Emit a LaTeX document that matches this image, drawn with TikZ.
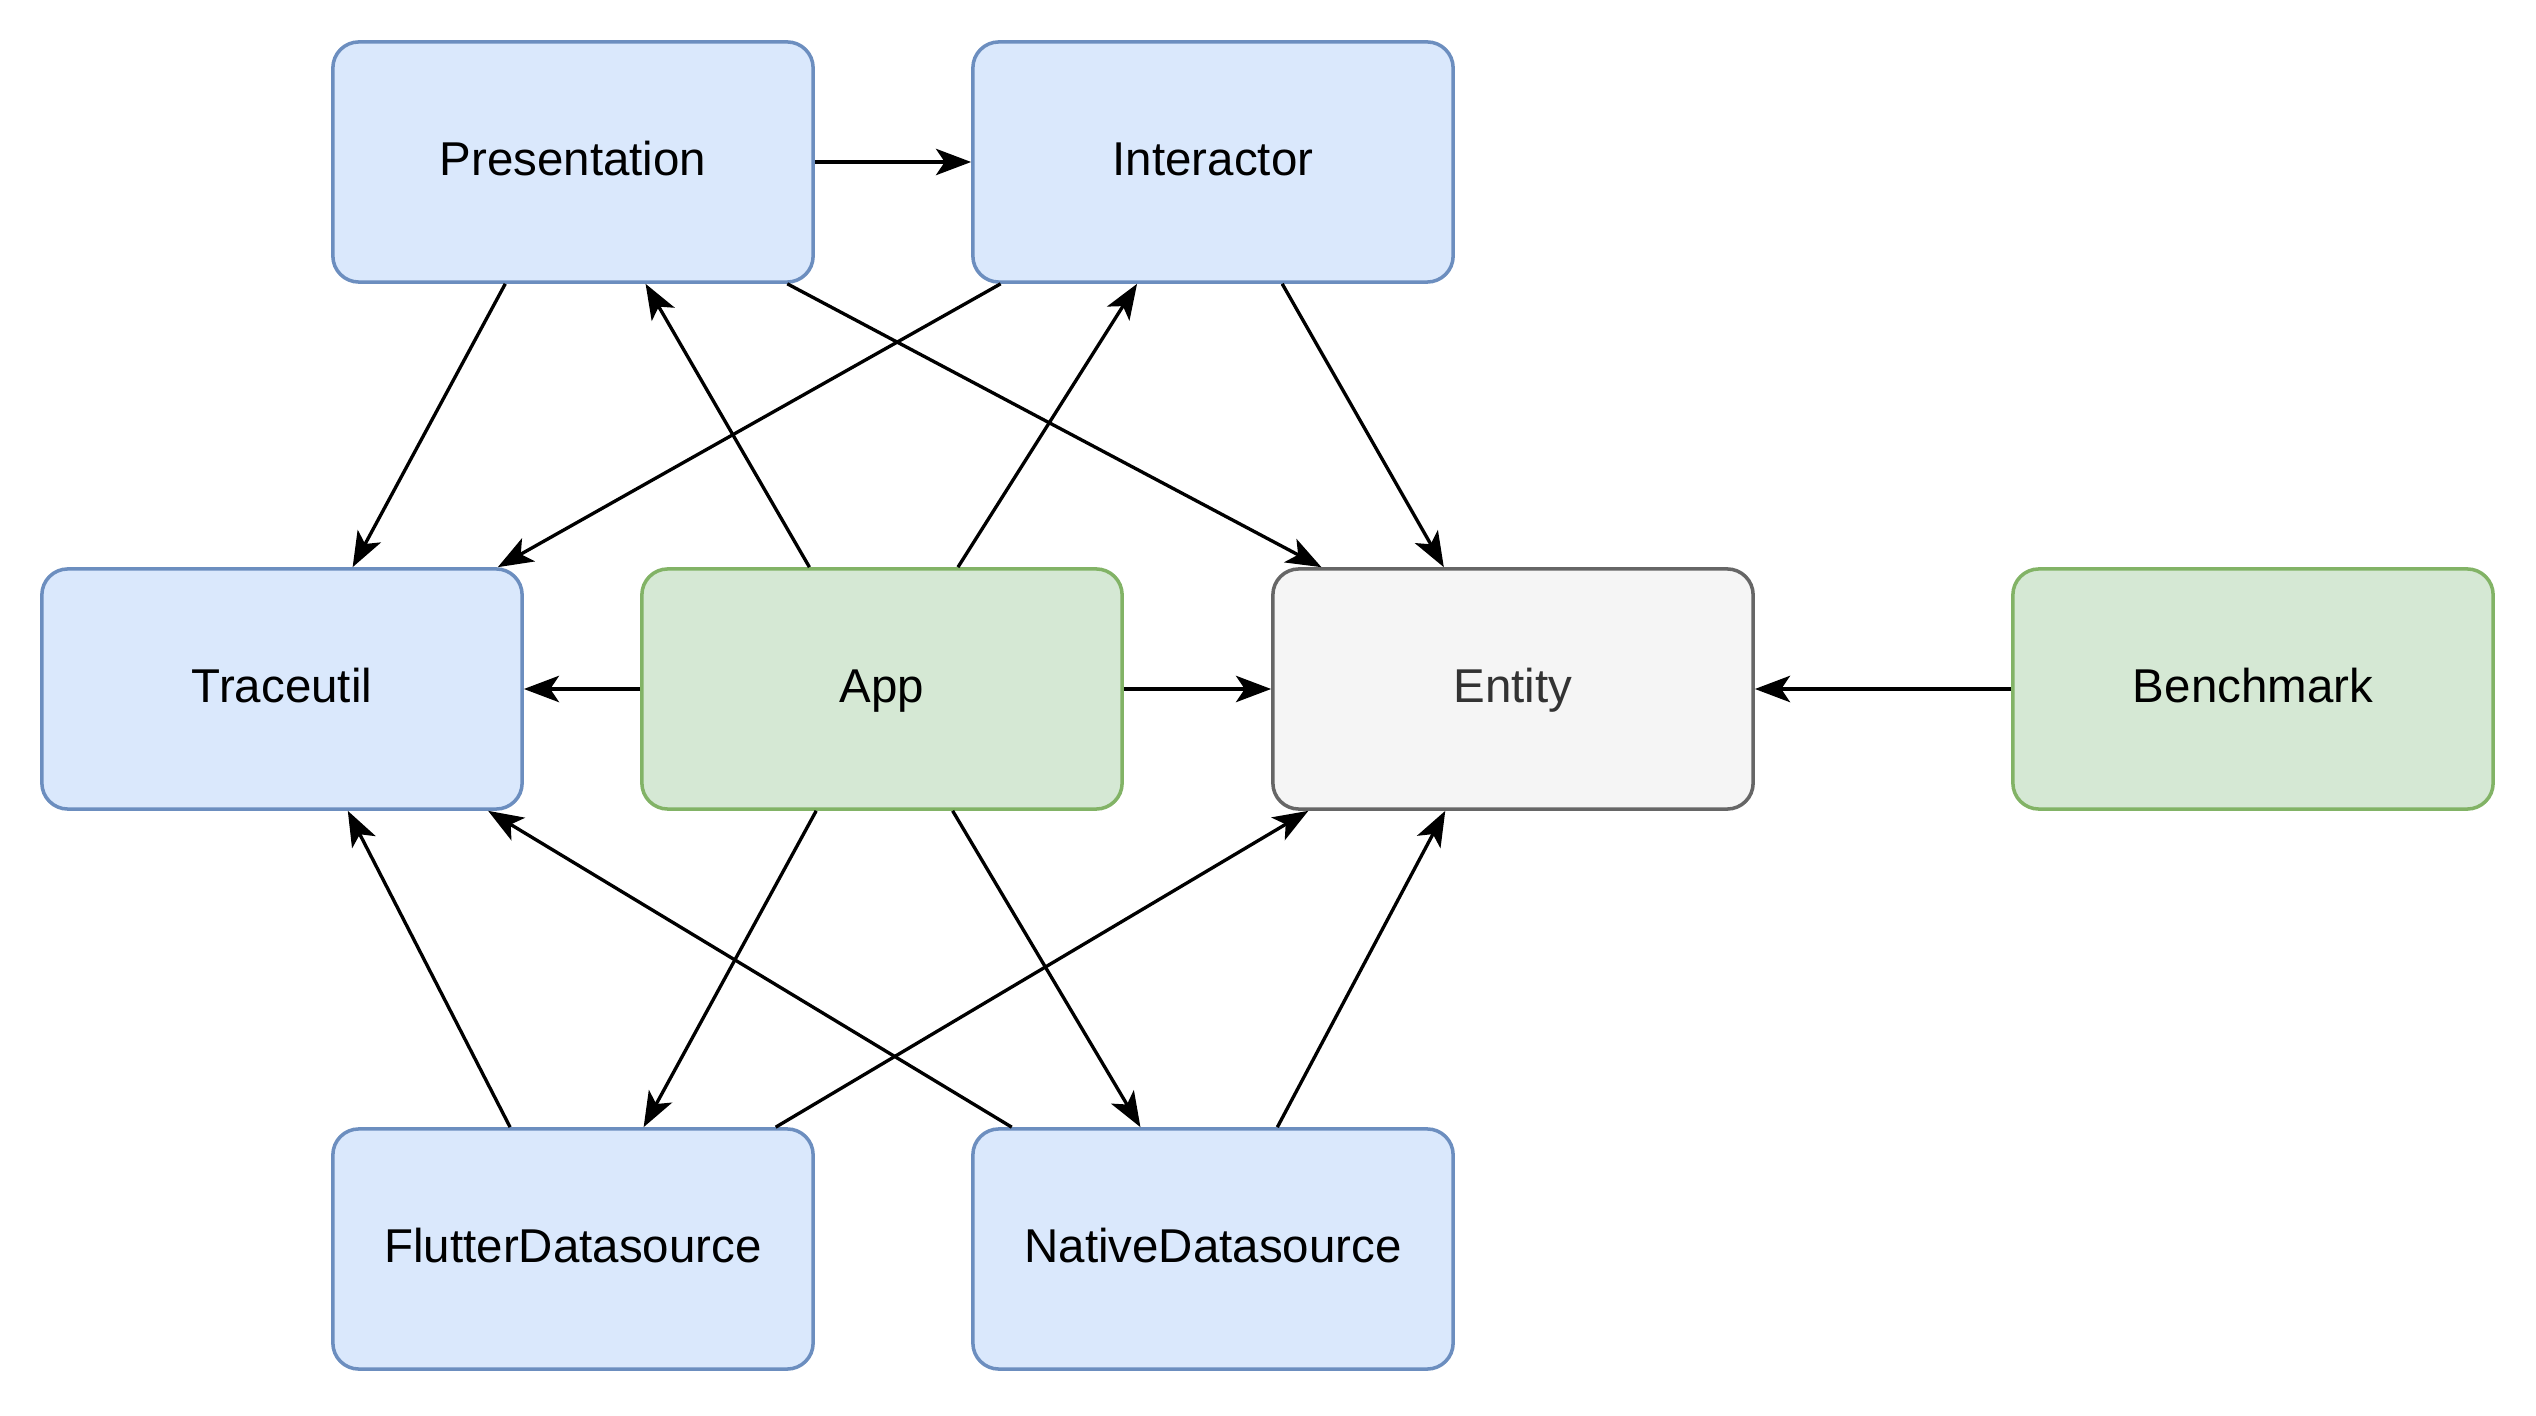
\documentclass[tikz,border=0pt]{standalone}
\usepackage{fontspec}
\setmainfont{Liberation Sans}
\usetikzlibrary{arrows.meta,calc}
\definecolor{bfill}{HTML}{DAE8FC}
\definecolor{bline}{HTML}{6C8EBF}
\definecolor{gfill}{HTML}{D5E8D4}
\definecolor{gline}{HTML}{82B366}
\definecolor{efill}{HTML}{F5F5F5}
\definecolor{eline}{HTML}{666666}
\definecolor{etext}{HTML}{333333}
\tikzset{
  box/.style={draw, rounded corners=0.26cm, minimum width=4.8cm, minimum height=2.4cm,
    inner sep=0pt, line width=1pt, text height=0.75em, text depth=0em,
    font=\fontsize{13.5}{16}\selectfont},
  bluebox/.style={box, fill=bfill, draw=bline},
  greenbox/.style={box, fill=gfill, draw=gline},
  greybox/.style={box, fill=efill, draw=eline, text=etext},
  conn/.style={line width=0.95pt, -{Stealth[length=10pt, width=7.5pt, inset=2.5pt]}}
}
\begin{document}
\begin{tikzpicture}[x=0.01cm, y=-0.01cm]
\useasboundingbox (0,0) rectangle (2536,1416);
\node[bluebox] (pres) at (573,162) {Presentation};
\node[bluebox] (inter) at (1213,162) {Interactor};
\node[bluebox] (trace) at (282,689) {Traceutil};
\node[greenbox] (app) at (882,689) {App};
\node[greybox] (ent) at (1513,689) {Entity};
\node[greenbox] (bench) at (2253,689) {Benchmark};
\node[bluebox] (flut) at (573,1249) {FlutterDatasource};
\node[bluebox] (nat) at (1213,1249) {NativeDatasource};

\draw[conn] (pres.east) -- (inter.west);
\draw[conn] ($(pres.south west)!0.36!(pres.south east)$) -- ($(trace.north west)!0.646!(trace.north east)$);
\draw[conn] ($(pres.south west)!0.943!(pres.south east)$) -- ($(ent.north west)!0.104!(ent.north east)$);
\draw[conn] ($(inter.south west)!0.061!(inter.south east)$) -- ($(trace.north west)!0.946!(trace.north east)$);
\draw[conn] ($(inter.south west)!0.643!(inter.south east)$) -- ($(ent.north west)!0.357!(ent.north east)$);
\draw[conn] ($(app.north west)!0.35!(app.north east)$) -- ($(pres.south west)!0.65!(pres.south east)$);
\draw[conn] ($(app.north west)!0.657!(app.north east)$) -- ($(inter.south west)!0.343!(inter.south east)$);
\draw[conn] (app.west) -- (trace.east);
\draw[conn] (app.east) -- (ent.west);
\draw[conn] (bench.west) -- (ent.east);
\draw[conn] ($(app.south west)!0.364!(app.south east)$) -- ($(flut.north west)!0.646!(flut.north east)$);
\draw[conn] ($(app.south west)!0.646!(app.south east)$) -- ($(nat.north west)!0.35!(nat.north east)$);
\draw[conn] ($(flut.north west)!0.37!(flut.north east)$) -- ($(trace.south west)!0.636!(trace.south east)$);
\draw[conn] ($(flut.north west)!0.919!(flut.north east)$) -- ($(ent.south west)!0.077!(ent.south east)$);
\draw[conn] ($(nat.north west)!0.084!(nat.north east)$) -- ($(trace.south west)!0.926!(trace.south east)$);
\draw[conn] ($(nat.north west)!0.633!(nat.north east)$) -- ($(ent.south west)!0.36!(ent.south east)$);
\end{tikzpicture}
\end{document}
